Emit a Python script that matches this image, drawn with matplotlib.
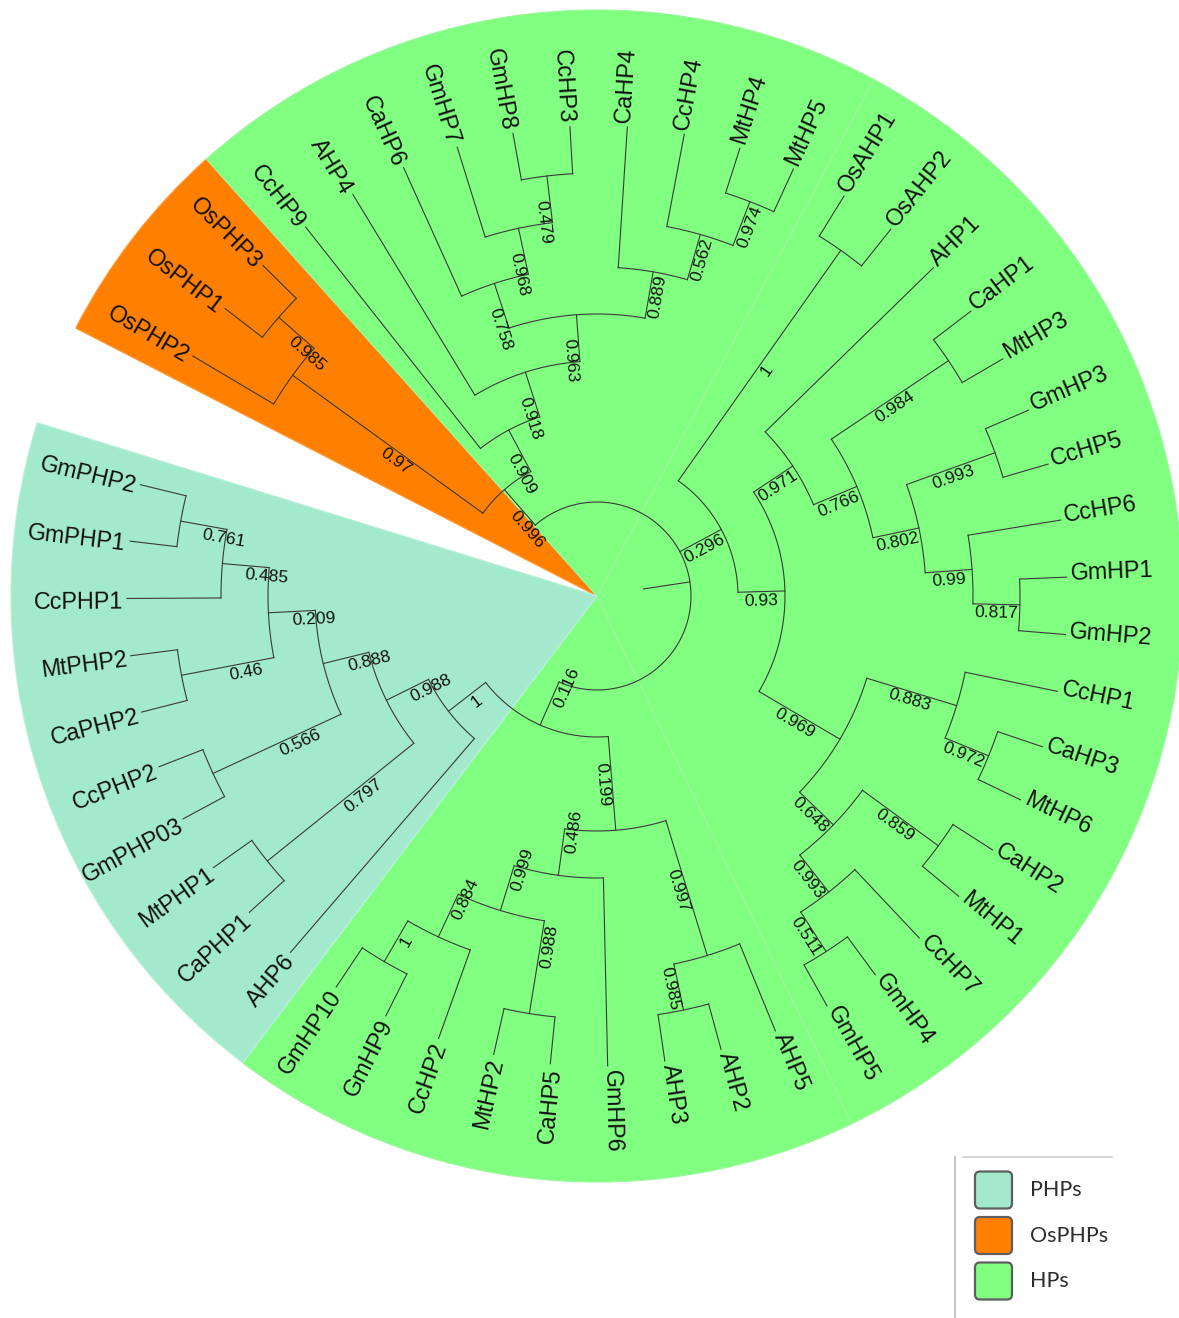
import numpy as np
import matplotlib.pyplot as plt
from matplotlib.patches import Wedge, FancyBboxPatch

# --- tree data (Newick, internal labels = support values) ---
clade_os_php_hp = ("((OsPHP2,(OsPHP1,OsPHP3)0.985)0.97,(CcHP9,(AHP4,((CaHP6,(GmHP7,(GmHP8,CcHP3)0.479)0.968)0.758,"
                   "(CaHP4,(CcHP4,(MtHP4,MtHP5)0.974)0.562)0.889)0.963)0.918)0.909)0.996")
clade_hp = ("((OsAHP1,OsAHP2)1,((AHP1,((CaHP1,MtHP3)0.984,((GmHP3,CcHP5)0.993,(CcHP6,(GmHP1,GmHP2)0.817)0.99)0.802)0.766)0.971,"
            "((CcHP1,(CaHP3,MtHP6)0.972)0.883,((CaHP2,MtHP1)0.859,(CcHP7,(GmHP4,GmHP5)0.511)0.993)0.648)0.969)0.93)0.296")
clade_php = ("(((AHP5,(AHP2,AHP3)0.985)0.997,(GmHP6,((CaHP5,MtHP2)0.988,(CcHP2,(GmHP9,GmHP10)1)0.884)0.999)0.486)0.199,"
             "(AHP6,((CaPHP1,MtPHP1)0.797,((GmPHP03,CcPHP2)0.566,((CaPHP2,MtPHP2)0.46,(CcPHP1,(GmPHP1,GmPHP2)0.761)0.485)0.209)0.888)0.988)1)0.116")
tree_newick = "(" + ",".join([clade_os_php_hp, clade_hp, clade_php]) + ");"

# coloured ranges behind the tree
range_first = ["OsPHP2", "CcHP9", "OsAHP1", "AHP5", "AHP6"]
range_last = ["OsPHP3", "MtHP5", "GmHP5", "GmHP10", "GmPHP2"]
range_group = ["OsPHPs", "HPs", "HPs", "HPs", "PHPs"]

legend_labels = ["PHPs", "OsPHPs", "HPs"]
group_colors = {"PHPs": "#a3e9cd", "OsPHPs": "#ff8000", "HPs": "#80ff80"}
edge_colors = {"PHPs": "#b8efd9", "OsPHPs": "#ff9a33", "HPs": "#9cf79c"}

# layout (pixels)
W, H = 1179, 1318
cx, cy = 597, H - 596
R_LEAF = 470
UNIT = R_LEAF / 10
R_OUT = 586
start_ang = 149.3
step = 7.0


def parse(s):
    pos = 0

    def node():
        nonlocal pos
        if s[pos] == "(":
            pos += 1
            kids = [node()]
            while s[pos] == ",":
                pos += 1
                kids.append(node())
            pos += 1
            st = pos
            while s[pos] not in ",);":
                pos += 1
            return {"children": kids, "support": s[st:pos]}
        st = pos
        while s[pos] not in ",);":
            pos += 1
        return {"name": s[st:pos], "children": []}
    return node()


root = parse(tree_newick)
leaves = []


def layout(n):
    if not n["children"]:
        n["h"] = 0
        n["ang"] = start_ang - len(leaves) * step
        leaves.append(n["name"])
        return
    for c in n["children"]:
        layout(c)
    n["h"] = 1 + max(c["h"] for c in n["children"])
    n["ang"] = (n["children"][0]["ang"] + n["children"][-1]["ang"]) / 2


layout(root)


def rad(n):
    return R_LEAF - n["h"] * UNIT


def xy(r, a):
    t = np.radians(a)
    return cx + r * np.cos(t), cy + r * np.sin(t)


fig = plt.figure(figsize=(W / 100, H / 100), dpi=100)
ax = fig.add_axes([0, 0, 1, 1])
ax.set_xlim(0, W)
ax.set_ylim(0, H)
ax.axis("off")

# background ranges
for f, l, g in zip(range_first, range_last, range_group):
    a0 = start_ang - leaves.index(f) * step + step / 2
    a1 = start_ang - leaves.index(l) * step - step / 2
    ax.add_patch(Wedge((cx, cy), R_OUT, a1, a0, facecolor=group_colors[g],
                       edgecolor=edge_colors[g], lw=0.9, zorder=1))

line_kw = dict(color="#3a3a3a", lw=0.8, zorder=3)
label_font = ["Liberation Sans", "DejaVu Sans"]


def draw(n, parent_r):
    r = rad(n)
    a = n["ang"]
    # stem from parent
    x0, y0 = xy(parent_r, a)
    x1, y1 = xy(R_LEAF if not n["children"] else r, a)
    ax.plot([x0, x1], [y0, y1], **line_kw)
    if not n["children"]:
        right = np.cos(np.radians(a)) >= 0
        lx, ly = xy(R_LEAF + 4, a + 0.45)
        ax.text(lx, ly, n["name"], rotation=a if right else a - 180,
                rotation_mode="anchor", ha="left" if right else "right",
                va="center", fontsize=16.8, family=label_font, color="#111111", zorder=4)
        return
    angs = np.linspace(n["children"][0]["ang"], n["children"][-1]["ang"], 200)
    ax.plot(*xy(r, angs), **line_kw)
    if n.get("support") and parent_r is not None:
        mid = (parent_r + r) / 2
        right = np.cos(np.radians(a)) >= 0
        t = np.radians(a)
        off = 1.5 if right else -1.5
        px, py = xy(mid, a)
        px += off * np.sin(t)
        py -= off * np.cos(t)
        ax.text(px, py, n["support"], rotation=a if right else a - 180,
                rotation_mode="anchor", ha="center" if right else "left",
                va="top", fontsize=12.6, family=label_font, color="#111111", zorder=4)
    for c in n["children"]:
        draw(c, r)


# root: stub plus arc
r_root = rad(root)
sx0, sy0 = xy(r_root - UNIT, root["ang"])
sx1, sy1 = xy(r_root, root["ang"])
ax.plot([sx0, sx1], [sy0, sy1], **line_kw)
angs = np.linspace(root["children"][0]["ang"], root["children"][-1]["ang"], 400)
ax.plot(*xy(r_root, angs), **line_kw)
for c in root["children"]:
    draw(c, r_root)

# legend
ax.plot([955, 955], [0, H - 1157], color="#c8c8c8", lw=1.5, zorder=2)
ax.plot([963, 1112], [H - 1157, H - 1157], color="#d0d0d0", lw=1.2, zorder=2)
for k, lab in enumerate(legend_labels):
    yc = H - (1190 + 45.5 * k)
    ax.add_patch(FancyBboxPatch((975, yc - 18.5), 37, 37, boxstyle="round,pad=0,rounding_size=5",
                                facecolor=group_colors[lab], edgecolor="#5e5e5e", lw=1.6, zorder=2))
    ax.text(1030, yc, lab, fontsize=15.5, family=["Lato", "DejaVu Sans"], color="#2e2e2e",
            va="center", ha="left", zorder=2)

fig.savefig("out.png", dpi=100)
